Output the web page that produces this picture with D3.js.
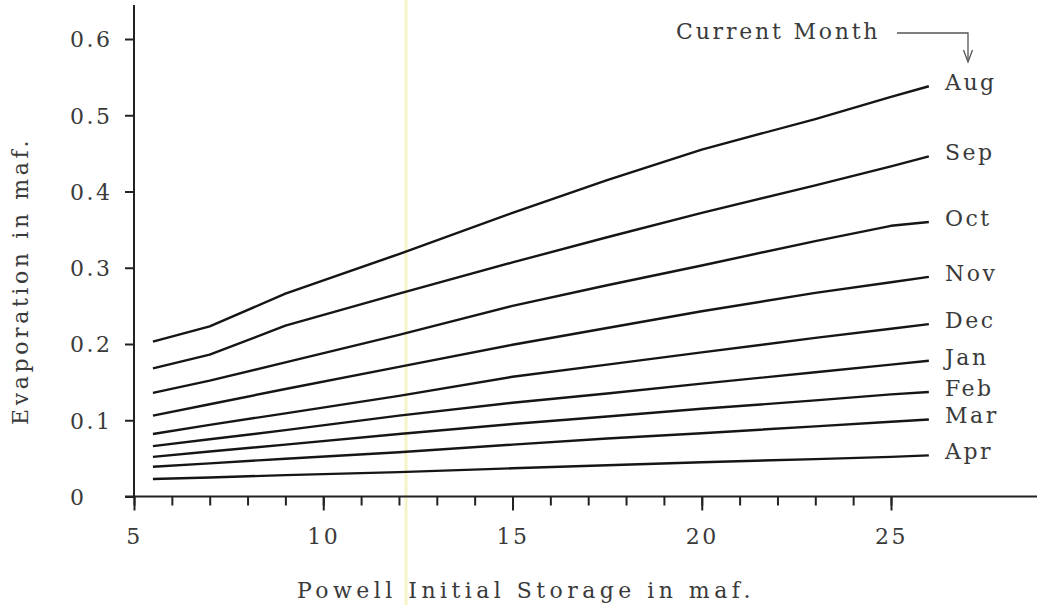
<!DOCTYPE html>
<html>
<head>
<meta charset="utf-8">
<script src="https://cdn.jsdelivr.net/npm/d3@7"></script>
<style>
  body { margin: 0; background: #fff; }
  text { font-family: "DejaVu Serif", serif; fill: #3a3a3a; letter-spacing: 2.5px; }
</style>
</head>
<body>
<svg id="chart" width="1037" height="605"></svg>
<script>
// storage (maf) at which each curve was read
var storage = [5.5, 7, 9, 12, 15, 17.5, 20, 23, 25, 26];

var months = ["Aug", "Sep", "Oct", "Nov", "Dec", "Jan", "Feb", "Mar", "Apr"];

var aug = [0.203, 0.223, 0.266, 0.318, 0.372, 0.415, 0.455, 0.495, 0.524, 0.538];
var sep = [0.168, 0.186, 0.224, 0.266, 0.307, 0.340, 0.372, 0.408, 0.433, 0.446];
var oct = [0.136, 0.152, 0.176, 0.212, 0.250, 0.277, 0.303, 0.335, 0.355, 0.360];
var nov = [0.106, 0.121, 0.141, 0.170, 0.199, 0.221, 0.243, 0.267, 0.281, 0.288];
var dec = [0.082, 0.094, 0.109, 0.132, 0.157, 0.173, 0.189, 0.208, 0.220, 0.226];
var jan = [0.066, 0.075, 0.087, 0.106, 0.123, 0.135, 0.148, 0.163, 0.173, 0.178];
var feb = [0.052, 0.059, 0.068, 0.082, 0.095, 0.105, 0.115, 0.126, 0.134, 0.137];
var mar = [0.039, 0.0435, 0.0495, 0.058, 0.068, 0.076, 0.083, 0.092, 0.098, 0.101];
var apr = [0.023, 0.025, 0.028, 0.032, 0.037, 0.041, 0.045, 0.049, 0.052, 0.054];

var series = [aug, sep, oct, nov, dec, jan, feb, mar, apr];

var xTicksMajor = [5, 10, 15, 20, 25];
var xTicksMinor = d3.range(5, 26, 1);
var yTicks = [0, 0.1, 0.2, 0.3, 0.4, 0.5, 0.6];

var svg = d3.select('#chart');

var x = d3.scaleLinear().domain([5, 25]).range([134, 891]),
    y = d3.scaleLinear().domain([0, 0.6]).range([496.5, 39]);

var font = '"DejaVu Serif", serif';

// faint scanner streak
svg.append('line')
  .attr('x1', 406).attr('x2', 406).attr('y1', 0).attr('y2', 605)
  .attr('stroke', '#f6f3c8').attr('stroke-width', 3);

// axis lines
svg.append('line')
  .attr('x1', 125).attr('x2', 1037).attr('y1', y(0)).attr('y2', y(0))
  .attr('stroke', '#222').attr('stroke-width', 2);
svg.append('line')
  .attr('x1', x(5)).attr('x2', x(5)).attr('y1', 5).attr('y2', y(0))
  .attr('stroke', '#222').attr('stroke-width', 2);

// x ticks
var gxMinor = svg.append('g')
  .attr('transform', 'translate(0,' + y(0) + ')')
  .call(d3.axisBottom(x).tickValues(xTicksMinor).tickSize(9).tickFormat(''));
var gxMajor = svg.append('g')
  .attr('transform', 'translate(0,' + y(0) + ')')
  .call(d3.axisBottom(x).tickValues(xTicksMajor).tickSize(14).tickFormat(d3.format('d')));

[gxMinor, gxMajor].forEach(function(g) {
  g.select('.domain').remove();
  g.selectAll('.tick line').attr('stroke', '#222').attr('stroke-width', 2);
});
gxMajor.selectAll('.tick text')
  .attr('y', 47).attr('dy', 0)
  .style('font-size', '22px')
  .style('font-family', font)
  .attr('fill', '#3a3a3a');

// y ticks
var gy = svg.append('g')
  .attr('transform', 'translate(' + x(5) + ',0)')
  .call(d3.axisLeft(y).tickValues(yTicks).tickSize(9)
    .tickFormat(function(d) { return d === 0 ? '0' : d3.format('.1f')(d); }));
gy.select('.domain').remove();
gy.selectAll('.tick line').attr('stroke', '#222').attr('stroke-width', 2);
gy.selectAll('.tick text')
  .attr('x', -64).attr('dy', '0.36em')
  .attr('text-anchor', 'start')
  .style('font-size', '22px')
  .style('font-family', font)
  .attr('fill', '#3a3a3a');

// curves
var line = d3.line()
  .x(function(d, i) { return x(storage[i]); })
  .y(function(d) { return y(d); });

svg.append('g').selectAll('path')
  .data(series)
  .enter().append('path')
  .attr('d', line)
  .attr('fill', 'none')
  .attr('stroke', '#151515')
  .attr('stroke-width', 2.4)
  .attr('stroke-linejoin', 'round');

// month labels
svg.append('g').selectAll('text')
  .data(series)
  .enter().append('text')
  .attr('x', 945)
  .attr('y', function(d) { return y(d[d.length - 1]) + 4; })
  .style('font-size', '22px')
  .text(function(d, i) { return months[i]; });

// "Current Month" note with arrow
svg.append('text')
  .attr('x', 676).attr('y', 39)
  .attr('textLength', 204).attr('lengthAdjust', 'spacing')
  .style('font-size', '22px')
  .text('Current Month');
svg.append('path')
  .attr('d', 'M897,33H968V61')
  .attr('fill', 'none').attr('stroke', '#555').attr('stroke-width', 1.3);
svg.append('path')
  .attr('d', 'M963.5,50L968,62L972.5,50')
  .attr('fill', 'none').attr('stroke', '#555').attr('stroke-width', 1.3);

// axis titles
svg.append('text')
  .attr('x', 297).attr('y', 598)
  .attr('textLength', 456).attr('lengthAdjust', 'spacing')
  .style('font-size', '22px')
  .text('Powell Initial Storage in maf.');

svg.append('text')
  .attr('transform', 'translate(28,425) rotate(-90)')
  .attr('textLength', 287).attr('lengthAdjust', 'spacing')
  .style('font-size', '22px')
  .text('Evaporation in maf.');
</script>
</body>
</html>
